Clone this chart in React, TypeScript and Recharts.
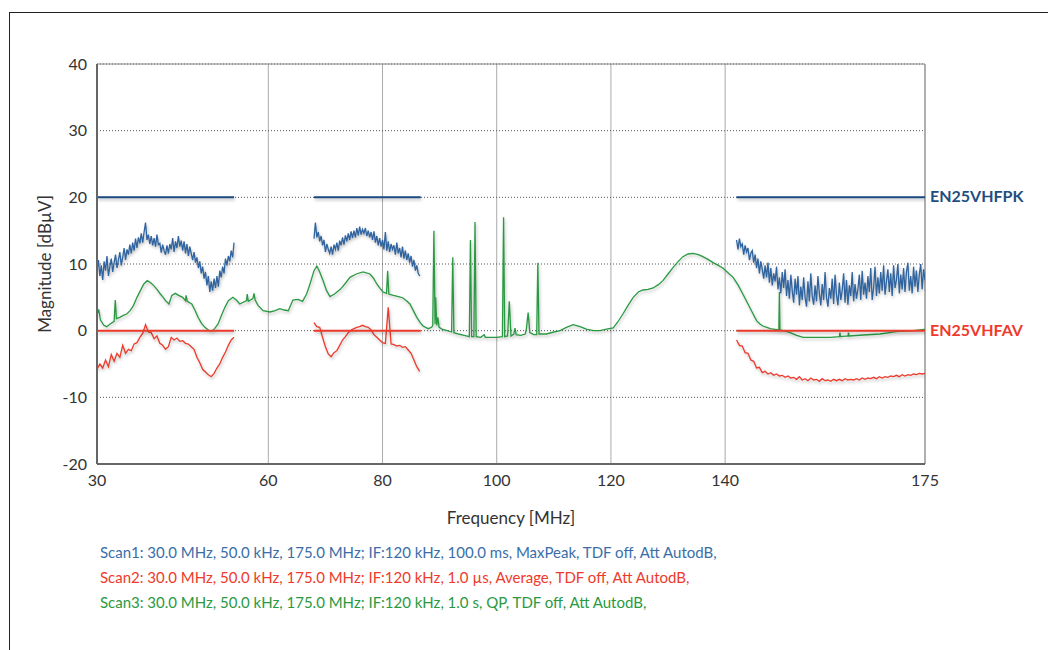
import React from "react";
import { LineChart, Line, XAxis, YAxis, CartesianGrid, ReferenceLine, Label } from "recharts";

// axis ticks
const X_TICKS = [30, 60, 80, 100, 120, 140, 175];
const Y_TICKS = [-20, -10, 0, 10, 20, 30, 40];

// sweep grid of the receiver scans (MHz)
const SEG_STARTS = [30, 68, 142];
const PEAK_STEP = 0.25;
const AVG_STEP = 0.5;

// Scan1 - MaxPeak (dBµV)
const peakSeg1 = [
  9.0, 10.6, 8.2, 9.8, 7.6, 10.4, 9.0, 11.2, 8.2, 9.6, 10.8, 8.8, 10.2, 11.4, 9.4, 10.6,
  11.8, 9.8, 11.0, 12.4, 10.6, 12.2, 11.4, 12.9, 11.6, 13.2, 12.0, 13.8, 12.4, 14.0, 13.1, 14.6,
  13.2, 14.8, 16.2, 13.6, 14.4, 13.0, 14.2, 12.8, 13.9, 12.6, 14.4, 12.9, 13.1, 11.7, 12.9, 12.0,
  11.4, 12.8, 11.6, 13.0, 12.2, 13.9, 11.8, 13.4, 12.4, 14.2, 12.6, 13.5, 12.0, 13.4, 11.6, 13.0,
  11.2, 12.6, 11.6, 10.6, 11.8, 10.2, 11.0, 9.4, 10.4, 8.6, 9.6, 7.8, 8.8, 6.8, 8.2, 5.8,
  7.4, 6.0, 7.8, 6.4, 8.2, 6.6, 9.0, 8.0, 9.6, 8.6, 10.8, 9.8, 11.2, 10.4, 12.0, 11.0,
  13.2,
];
const peakSeg2 = [
  13.8, 16.2, 14.0, 14.8, 13.4, 14.2, 12.8, 13.6, 11.8, 13.0, 12.2, 11.6, 12.6, 11.4, 12.9, 12.2,
  13.2, 12.0, 13.5, 12.8, 14.0, 12.9, 14.3, 13.4, 14.6, 13.6, 14.9, 13.9, 15.0, 14.0, 15.4, 14.3,
  15.6, 14.4, 15.2, 14.6, 15.4, 14.2, 15.0, 14.0, 14.8, 13.6, 14.9, 13.2, 14.2, 12.8, 13.9, 12.6,
  13.6, 12.2, 14.8, 12.0, 13.4, 11.8, 13.0, 12.2, 12.8, 11.4, 13.2, 11.6, 12.4, 11.0, 12.6, 10.8,
  12.0, 10.6, 11.6, 10.2, 11.2, 9.6, 10.6, 9.0, 9.8, 8.6, 8.2,
];
const peakSeg3 = [
  13.6, 12.2, 13.8, 12.6, 13.0, 11.4, 12.8, 11.8, 12.4, 10.6, 11.6, 12.0, 10.2, 11.4, 9.4, 10.8,
  8.6, 10.4, 9.2, 7.8, 9.8, 8.0, 10.2, 7.2, 9.4, 6.8, 8.6, 7.4, 9.6, 6.2, 8.0, 5.6,
  8.8, 6.4, 9.2, 5.2, 7.6, 4.8, 8.4, 6.0, 4.2, 7.8, 5.4, 8.2, 3.8, 6.6, 4.6, 8.0,
  5.0, 3.6, 7.4, 4.4, 8.6, 5.2, 3.9, 6.8, 4.4, 8.2, 5.6, 3.8, 7.0, 4.6, 8.8, 5.0,
  3.6, 6.4, 4.8, 7.8, 4.0, 8.4, 5.4, 3.8, 7.2, 4.6, 6.0, 8.6, 4.2, 7.6, 3.9, 6.8,
  5.2, 8.8, 4.4, 7.0, 4.8, 6.2, 8.4, 4.6, 9.0, 5.4, 7.2, 4.8, 8.2, 5.8, 9.4, 4.6,
  6.4, 9.6, 5.2, 8.0, 5.6, 8.8, 6.0, 9.8, 5.4, 7.4, 9.2, 5.8, 8.6, 5.2, 9.8, 6.4,
  7.6, 10.0, 5.6, 8.4, 6.2, 9.4, 5.8, 8.8, 10.2, 6.0, 8.2, 5.6, 9.6, 6.6, 9.0, 5.8,
  8.4, 10.0, 6.2, 9.2, 7.6,
];

// Scan2 - Average (dBµV)
const avgSeg1 = [
  -5.8, -5.0, -5.6, -4.4, -5.4, -3.6, -4.6, -3.4, -4.0, -2.2, -3.4, -2.8, -3.0, -2.0, -1.8, -1.0,
  -0.4, 0.9, -0.2, -0.3, -1.2, -0.8, -1.9, -2.2, -2.8, -2.4, -1.0, -1.4, -1.1, -1.6, -1.5, -1.9,
  -2.0, -2.4, -2.8, -4.0, -4.8, -5.8, -6.2, -6.6, -6.9, -6.4, -5.6, -5.0, -4.0, -3.2, -2.2, -1.4,
  -1.0,
];
const avgSeg2 = [
  1.2, 0.6, 0.5, -1.0, -2.4, -3.5, -3.9, -3.3, -3.0, -2.2, -1.4, -0.9, -0.3, 0.1, 0.3, 0.5, 0.6,
  0.8, 0.6, 0.5, 0.1, -0.6, -1.0, -1.4, -1.8, -1.9, 3.5, -2.0, -2.1, -2.3, -2.2, -2.5, -2.4, -2.9,
  -3.4, -4.4, -5.4, -6.1,
];
const avgSeg3 = [
  -1.4, -2.2, -2.3, -3.3, -3.4, -4.4, -4.6, -5.6, -5.5, -6.3, -6.1, -6.5, -6.3, -6.7, -6.5, -6.8,
  -6.7, -7.0, -6.8, -7.1, -7.0, -7.3, -6.9, -7.4, -7.2, -7.5, -7.1, -7.4, -7.3, -7.6, -7.2, -7.5,
  -7.4, -7.6, -7.3, -7.5, -7.3, -7.5, -7.2, -7.4, -7.3, -7.4, -7.2, -7.4, -7.1, -7.3, -7.1, -7.2,
  -7.0, -7.2, -6.9, -7.1, -6.9, -7.0, -6.8, -6.9, -6.7, -6.9, -6.6, -6.8, -6.6, -6.7, -6.5, -6.6,
  -6.4, -6.5, -6.4,
];

// Scan3 - QP, [MHz, dBµV]
const qpPoints: [number, number][] = [
  [30, 2.4], [30.3, 3.2], [30.6, 1.6], [31.2, 0.8], [31.7, 0.6], [32.3, 1.0], [33.0, 1.4],
  [33.2, 4.6], [33.4, 1.8], [34.0, 2.0], [34.6, 2.3], [35.2, 2.5], [35.8, 3.0], [36.4, 3.8],
  [37.0, 5.0], [37.6, 6.0], [38.2, 7.0], [38.8, 7.5], [39.4, 7.2], [39.9, 6.8], [40.5, 6.2],
  [41.1, 5.5], [41.6, 5.0], [42.0, 4.5], [42.6, 4.0], [43.1, 5.3], [43.7, 5.6], [44.3, 5.3],
  [45.0, 5.0], [45.5, 4.5], [45.6, 5.3], [45.8, 4.4], [46.6, 4.0], [47.2, 3.0], [47.7, 2.0],
  [48.3, 1.1], [48.9, 0.5], [49.5, 0.1], [50.1, -0.1], [50.6, 0.3], [51.2, 1.0], [51.8, 2.3],
  [52.4, 3.5], [53.0, 4.5], [53.8, 5.0], [54.4, 4.6], [55.0, 4.0], [56.2, 4.5], [56.3, 5.5],
  [56.5, 4.4], [57.3, 4.8], [57.5, 5.6], [57.7, 4.6], [58.2, 3.8], [59.1, 3.0], [60.3, 2.8],
  [61.2, 3.0], [62.0, 3.3], [62.8, 3.1], [63.5, 3.0], [64.3, 4.6], [65.2, 4.7], [66.0, 4.4],
  [66.7, 5.5], [67.3, 7.0], [68.0, 9.0], [68.5, 9.7], [69.0, 8.8], [69.6, 7.5], [70.2, 6.0],
  [70.8, 5.1], [71.6, 5.5], [72.6, 6.2], [73.4, 7.0], [74.3, 8.0], [75.4, 8.5], [76.6, 8.8],
  [77.8, 8.5], [78.4, 7.9], [79.0, 7.0], [79.6, 6.3], [80.1, 5.8], [80.7, 5.6], [80.9, 9.0],
  [81.1, 5.5], [81.9, 5.3], [82.8, 5.1], [83.6, 4.9], [84.2, 4.5], [84.8, 4.0], [85.4, 3.0],
  [86.0, 2.0], [86.6, 1.2], [87.1, 0.7], [88.0, 0.3], [88.6, 0.5], [88.8, 0.8], [89.0, 15.0],
  [89.2, 1.0], [89.3, 5.0], [89.5, 0.8], [89.7, 2.0], [89.9, 0.5], [90.5, 0.2], [91.3, 0.0],
  [92.1, -0.2], [92.3, 11.0], [92.5, -0.3], [93.3, -0.5], [94.3, -0.7], [95.2, -0.9], [95.4, 13.6],
  [95.6, -0.9], [96.0, -0.9], [96.2, 16.3], [96.4, -0.9], [97.2, -1.0], [97.8, -0.6], [98.0, -1.0],
  [99.0, -1.0], [100.0, -1.0], [101.0, -0.9], [101.2, 17.0], [101.4, -0.9], [101.9, -0.8],
  [102.2, 4.4], [102.5, -0.8], [103.0, -0.5], [103.2, 0.4], [103.4, -0.6], [104.2, -0.7],
  [105.0, -0.5], [105.2, 0.3], [105.5, 2.7], [105.8, -0.3], [106.5, -0.6], [107.0, -0.6],
  [107.2, 10.2], [107.4, -0.5], [108.7, -0.5], [110.0, -0.2], [111.1, 0.0], [112.2, 0.5],
  [113.4, 0.9], [114.6, 0.6], [115.8, 0.2], [117.0, 0.0], [118.1, 0.0], [119.0, 0.2], [120.4, 0.4],
  [121.2, 1.3], [122.1, 2.5], [123.0, 3.8], [123.9, 5.0], [124.8, 5.8], [125.6, 6.1], [126.5, 6.2],
  [127.4, 6.4], [128.3, 6.9], [129.1, 7.5], [130.0, 8.5], [130.9, 9.5], [131.8, 10.4], [132.6, 11.1],
  [133.5, 11.5], [134.4, 11.6], [135.3, 11.4], [136.1, 11.1], [137.0, 10.7], [137.9, 10.2],
  [138.8, 9.8], [139.6, 9.4], [140.5, 8.7], [141.4, 8.0], [142.3, 6.8], [143.1, 5.5], [144.0, 4.0],
  [144.9, 2.5], [145.5, 1.5], [146.1, 1.0], [146.6, 0.7], [147.3, 0.5], [147.9, 0.3], [148.7, 0.2],
  [149.4, 0.1], [149.5, 5.8], [149.6, 0.1], [150.1, 0.0], [151.4, -0.3], [152.5, -0.7],
  [153.7, -1.0], [156.0, -1.0], [158.4, -1.0], [160.0, -0.9], [160.1, -0.3], [160.2, -0.9],
  [161.5, -0.8], [161.6, -0.3], [161.7, -0.8], [164.2, -0.65], [167.1, -0.5], [170.0, -0.15],
  [172.9, 0.0], [175.0, 0.2],
];

// limit lines: frequency ranges where they are drawn
const limitRanges: [number, number][] = [[30, 54], [68, 86.7], [142, 175]];
const PK_LIMIT = 20;
const AV_LIMIT = 0;

const BLUE = "#2f64a0";
const BLUE_LIMIT = "#1b4b82";
const RED = "#ee3a2b";
const GREEN = "#2a9a42";
const FONT = "Lato, 'Open Sans', sans-serif";

type Row = { f: number; v: number | null };

function sweepRows(segs: number[][], step: number): Row[] {
  const rows: Row[] = [];
  segs.forEach((vals, s) => {
    if (s > 0) rows.push({ f: SEG_STARTS[s] - 1, v: null });
    vals.forEach((v, i) => rows.push({ f: SEG_STARTS[s] + i * step, v }));
  });
  return rows;
}

function limitRows(level: number): Row[] {
  const rows: Row[] = [];
  limitRanges.forEach(([a, b], i) => {
    if (i > 0) rows.push({ f: a - 1, v: null });
    rows.push({ f: a, v: level }, { f: b, v: level });
  });
  return rows;
}

const peakData = sweepRows([peakSeg1, peakSeg2, peakSeg3], PEAK_STEP);
const avgData = sweepRows([avgSeg1, avgSeg2, avgSeg3], AVG_STEP);
const qpData: Row[] = qpPoints.map(([f, v]) => ({ f, v }));
const pkLimitData = limitRows(PK_LIMIT);
const avLimitData = limitRows(AV_LIMIT);

const scanLines = [
  { text: "Scan1: 30.0 MHz, 50.0 kHz, 175.0 MHz; IF:120 kHz, 100.0 ms, MaxPeak, TDF off, Att AutodB,", color: "#3a6ea8" },
  { text: "Scan2: 30.0 MHz, 50.0 kHz, 175.0 MHz; IF:120 kHz, 1.0 µs, Average, TDF off, Att AutodB,", color: "#ee3a2b" },
  { text: "Scan3: 30.0 MHz, 50.0 kHz, 175.0 MHz; IF:120 kHz, 1.0 s, QP, TDF off, Att AutodB,", color: "#2a9a42" },
];

export default function App() {
  const tick = { fill: "#333", fontSize: 16, fontFamily: FONT };
  return (
    <div style={{ position: "relative", width: 1048, height: 650, overflow: "hidden", background: "#fff", fontFamily: FONT }}>
      <style>{`body{margin:0} .recharts-line path{filter:drop-shadow(1px 2px 1.5px rgba(0,0,0,0.25))}`}</style>
      <div style={{ position: "absolute", left: 9, top: 12, width: 1100, height: 700, border: "1px solid #222" }} />
      <LineChart
        width={1048}
        height={650}
        margin={{ top: 64, right: 123, bottom: 156, left: 57 }}
        style={{ position: "absolute", left: 0, top: 0 }}
      >
        <CartesianGrid horizontal={false} stroke="#aaa" strokeWidth={1} />
        <CartesianGrid vertical={false} stroke="#555" strokeDasharray="1 2" />
        <XAxis
          type="number"
          dataKey="f"
          domain={[30, 175]}
          ticks={X_TICKS}
          allowDataOverflow
          height={30}
          tick={tick}
          tickLine={false}
          tickMargin={5}
          axisLine={{ stroke: "#666", strokeWidth: 2 }}
        >
          <Label value="Frequency [MHz]" position="insideBottom" offset={-30} style={{ fill: "#333", fontSize: 17, fontFamily: FONT }} />
        </XAxis>
        <YAxis
          type="number"
          domain={[-20, 40]}
          ticks={Y_TICKS}
          width={40}
          tick={tick}
          tickLine={false}
          tickMargin={4}
          axisLine={{ stroke: "#666", strokeWidth: 2 }}
        >
          <Label value="Magnitude [dBµV]" angle={-90} position="insideLeft" offset={-12} style={{ fill: "#333", fontSize: 17, fontFamily: FONT, textAnchor: "middle" }} />
        </YAxis>
        <ReferenceLine y={40} stroke="#888" />
        <ReferenceLine x={175} stroke="#888" />
        <Line data={qpData} dataKey="v" stroke={GREEN} strokeWidth={1.3} dot={false} isAnimationActive={false} />
        <Line data={avgData} dataKey="v" stroke={RED} strokeWidth={1.3} dot={false} isAnimationActive={false} />
        <Line data={peakData} dataKey="v" stroke={BLUE} strokeWidth={1.3} dot={false} isAnimationActive={false} />
        <Line data={avLimitData} dataKey="v" stroke={RED} strokeWidth={2} dot={false} isAnimationActive={false} />
        <Line data={pkLimitData} dataKey="v" stroke={BLUE_LIMIT} strokeWidth={2} dot={false} isAnimationActive={false} />
      </LineChart>
      <div style={{ position: "absolute", left: 930, top: 186, color: "#1f4e80", fontWeight: 700, fontSize: 16 }}>EN25VHFPK</div>
      <div style={{ position: "absolute", left: 930, top: 320, color: RED, fontWeight: 700, fontSize: 16 }}>EN25VHFAV</div>
      {scanLines.map((s, i) => (
        <div key={i} style={{ position: "absolute", left: 100, top: 543 + i * 25, color: s.color, fontSize: 15, whiteSpace: "nowrap" }}>
          {s.text}
        </div>
      ))}
    </div>
  );
}
